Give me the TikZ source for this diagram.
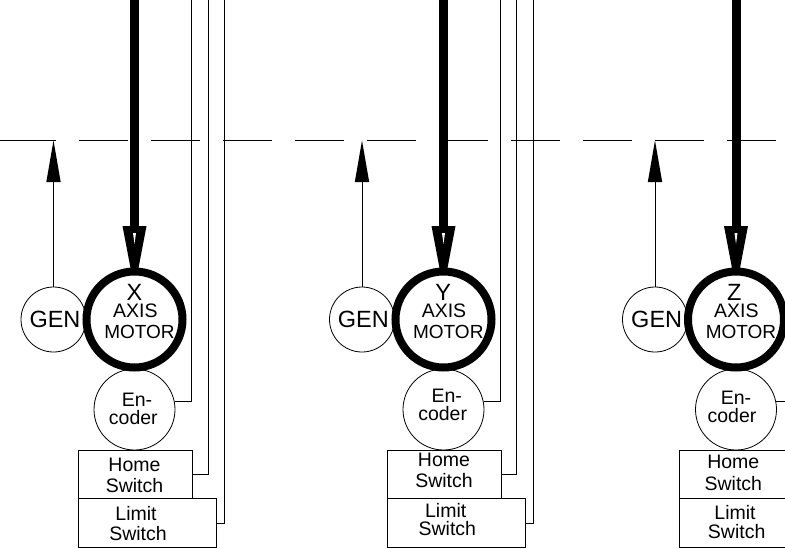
\documentclass[tikz,border=0pt]{standalone}
\usepackage{fontspec}
\setmainfont{Liberation Sans}
\newcommand{\fsA}{\fontsize{19.5}{20}\selectfont}
\newcommand{\fsB}{\fontsize{23.5}{24}\selectfont}
\newcommand{\fsC}{\fontsize{19}{20}\selectfont}
\tikzset{
  x=1pt,y=-1pt,
  wire/.style={draw=black,line width=1pt},
  thinc/.style={circle,draw=black,line width=0.8pt,fill=white,inner sep=0pt,minimum size=#1},
  boxn/.style={rectangle,draw=black,line width=1pt,fill=white,inner sep=0pt},
  lab/.style={inner sep=0pt,anchor=base,font=\fsA},
  labB/.style={inner sep=0pt,anchor=base,font=\fsB},
  labC/.style={inner sep=0pt,anchor=base,font=\fsC}
}
\begin{document}
\begin{tikzpicture}
\path[use as bounding box] (0,0) rectangle (785,549);
\clip (0,0) rectangle (785,549);
\fill[white] (0,0) rectangle (785,549);
% dashed centre line
\coordinate (dl) at (7,140.5);
\coordinate (dr) at (785,140.5);
\draw[line width=1pt,dash pattern=on 48.7pt off 23.3pt] (dl) -- (dr);
\draw[line width=1pt] (0,140.5) -- (dl);
\foreach \n/\gx/\mx/\hl/\ll/\wa/\wb/\wc in {
  X/53.5/134.5/78/216/191.5/208/224,
  Y/362/443.5/386.7/524.5/500.5/516.7/533,
  Z/655/736/679.3/830/793/809/825}{
  \coordinate (top\n) at (\mx,-2);
  \coordinate (line\n) at (\gx,140.5);
  \coordinate (ta\n) at (\wa,-2);
  \coordinate (tb\n) at (\wb,-2);
  \coordinate (tc\n) at (\wc,-2);
  % nodes
  \node[thinc=65pt] (gen\n) at (\gx,319.5) {};
  \node[thinc=81pt] (enc\n) at (\mx,409.5) {};
  \node[boxn,minimum width=\wa pt-\hl pt,minimum height=48.5pt,anchor=north west] (home\n) at (\hl,449.5) {};
  \node[boxn,minimum width=\ll pt-\hl pt,minimum height=49pt,anchor=north west] (lim\n) at (\hl,498) {};
  \node[circle,inner sep=0pt,minimum size=104pt] (mot\n) at (\mx,319.5) {};
  \draw[line width=8pt] (mot\n.center) circle (48pt);
  % generator feedback arrow
  \draw[wire] (gen\n.north) -- (\gx,180);
  \fill (line\n) -- (\gx+7.2,182) -- (\gx-7.2,182) -- cycle;
  % drive arrow
  \draw[line width=9pt] (top\n) -- (\mx,228);
  \fill (\mx-12,226) -- (\mx+12,226) -- (\mx+4,268) -- (\mx-4,268) -- cycle;
  \fill[white] (\mx-1.5,233) -- (\mx+1.5,233) -- (\mx,244) -- cycle;
  % wires
  \draw[wire] (enc\n.12) -| (ta\n);
  \draw[wire] (home\n.east) -| (tb\n);
  \draw[wire] (lim\n.east) -| (tc\n);
}
% texts
\node[labB] (tX) at (134.5,300) {X};
\node[lab]  (aX) at (135.3,317.3) {AXIS};
\node[labC] (mX) at (139.5,338.7) {MOTOR};
\node[labB] (gX) at (55,327.3) {GEN};
\node[lab]  (e1X) at (137,406) {En-};
\node[lab]  (e2X) at (133.3,424) {coder};
\node[lab]  (h1X) at (134.5,471.3) {Home};
\node[lab]  (h2X) at (134.5,492) {Switch};
\node[lab]  (l1X) at (136,520) {Limit};
\node[lab]  (l2X) at (138,540) {Switch};
\node[labB] (tY) at (443.3,300) {Y};
\node[lab]  (aY) at (444,317.3) {AXIS};
\node[labC] (mY) at (448.3,338.7) {MOTOR};
\node[labB] (gY) at (363.3,327.3) {GEN};
\node[lab]  (e1Y) at (446.7,402) {En-};
\node[lab]  (e2Y) at (442.7,420) {coder};
\node[lab]  (h1Y) at (444,466) {Home};
\node[lab]  (h2Y) at (444,487.7) {Switch};
\node[lab]  (l1Y) at (445.7,517.3) {Limit};
\node[lab]  (l2Y) at (447.3,535.7) {Switch};
\node[labB] (tZ) at (734.3,300) {Z};
\node[lab]  (aZ) at (736.3,317.3) {AXIS};
\node[labC] (mZ) at (741,338.7) {MOTOR};
\node[labB] (gZ) at (656.7,327.3) {GEN};
\node[lab]  (e1Z) at (736,404) {En-};
\node[lab]  (e2Z) at (732,422.7) {coder};
\node[lab]  (h1Z) at (733.3,468.7) {Home};
\node[lab]  (h2Z) at (733.3,490.7) {Switch};
\node[lab]  (l1Z) at (735,519) {Limit};
\node[lab]  (l2Z) at (736.7,538.3) {Switch};
\end{tikzpicture}
\end{document}
